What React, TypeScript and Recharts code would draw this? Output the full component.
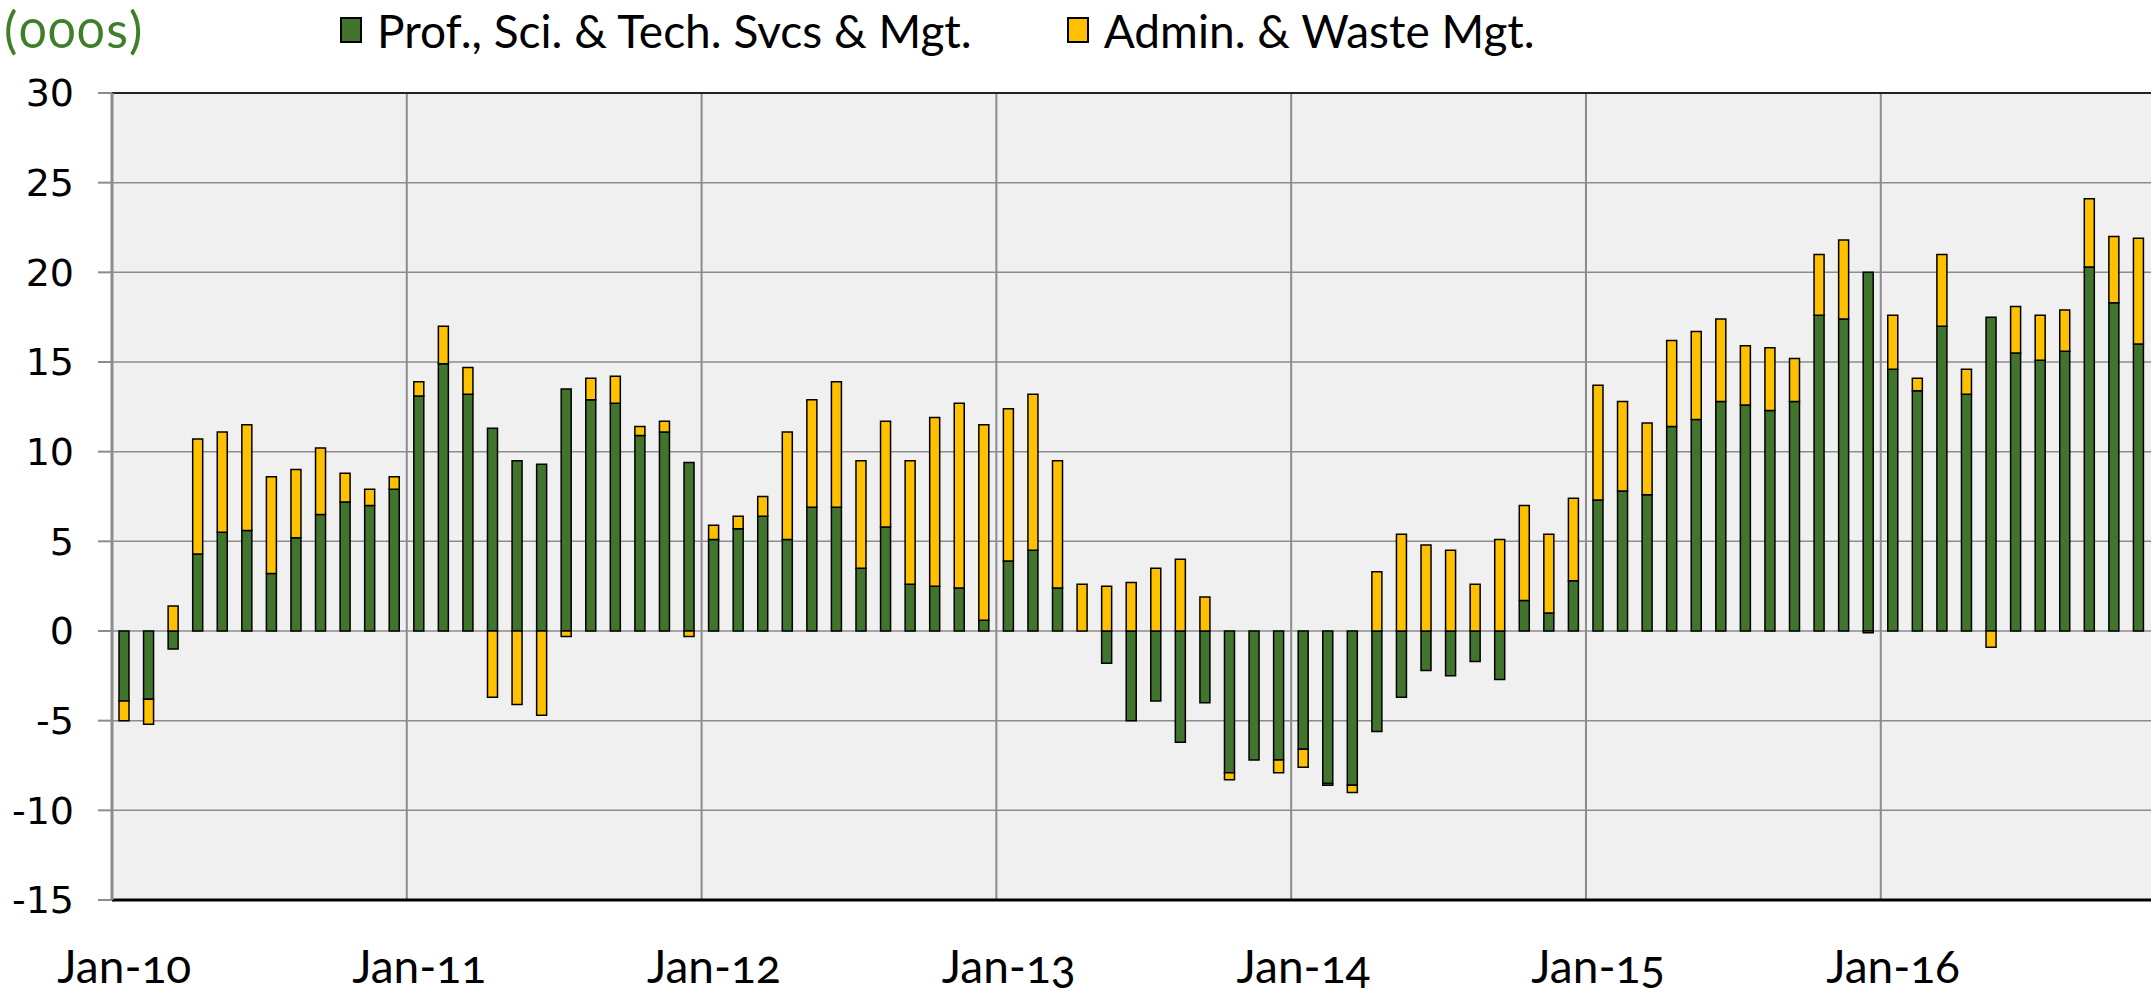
import React from 'react';
import { BarChart, Bar, XAxis, YAxis, CartesianGrid, ReferenceLine } from 'recharts';

const MONTHS = ['Jan', 'Feb', 'Mar', 'Apr', 'May', 'Jun', 'Jul', 'Aug', 'Sep', 'Oct', 'Nov', 'Dec'];
const YEARS = ['10', '11', '12', '13', '14', '15', '16'];
const COUNT = 83;
const categories: string[] = YEARS.flatMap((y) => MONTHS.map((m) => `${m}-${y}`)).slice(0, COUNT);

const profSciTech: number[] = [
  -3.9, -3.8, -1.0, 4.3, 5.5, 5.6, 3.2, 5.2, 6.5, 7.2, 7.0, 7.9,
  13.1, 14.9, 13.2, 11.3, 9.5, 9.3, 13.5, 12.9, 12.7, 10.9, 11.1, 9.4,
  5.1, 5.7, 6.4, 5.1, 6.9, 6.9, 3.5, 5.8, 2.6, 2.5, 2.4, 0.6,
  3.9, 4.5, 2.4, 0.0, -1.8, -5.0, -3.9, -6.2, -4.0, -7.9, -7.2, -7.2,
  -6.6, -8.5, -8.6, -5.6, -3.7, -2.2, -2.5, -1.7, -2.7, 1.7, 1.0, 2.8,
  7.3, 7.8, 7.6, 11.4, 11.8, 12.8, 12.6, 12.3, 12.8, 17.6, 17.4, 20.0,
  14.6, 13.4, 17.0, 13.2, 17.5, 15.5, 15.1, 15.6, 20.3, 18.3, 16.0,
];

const adminWaste: number[] = [
  -1.1, -1.4, 1.4, 6.4, 5.6, 5.9, 5.4, 3.8, 3.7, 1.6, 0.9, 0.7,
  0.8, 2.1, 1.5, -3.7, -4.1, -4.7, -0.3, 1.2, 1.5, 0.5, 0.6, -0.3,
  0.8, 0.7, 1.1, 6.0, 6.0, 7.0, 6.0, 5.9, 6.9, 9.4, 10.3, 10.9,
  8.5, 8.7, 7.1, 2.6, 2.5, 2.7, 3.5, 4.0, 1.9, -0.4, 0.0, -0.7,
  -1.0, -0.1, -0.4, 3.3, 5.4, 4.8, 4.5, 2.6, 5.1, 5.3, 4.4, 4.6,
  6.4, 5.0, 4.0, 4.8, 4.9, 4.6, 3.3, 3.5, 2.4, 3.4, 4.4, -0.1,
  3.0, 0.7, 4.0, 1.4, -0.9, 2.6, 2.5, 2.3, 3.8, 3.7, 5.9,
];

const yTicks: number[] = [-15, -10, -5, 0, 5, 10, 15, 20, 25, 30];
const xTickLabels: string[] = ['Jan-10', 'Jan-11', 'Jan-12', 'Jan-13', 'Jan-14', 'Jan-15', 'Jan-16'];
const yearBoundaries: number[] = [12, 24, 36, 48, 60, 72];

const SERIES_1 = 'Prof., Sci. & Tech. Svcs & Mgt.';
const SERIES_2 = 'Admin. & Waste Mgt.';
const GREEN = '#41752d';
const YELLOW = '#ffc000';
const GRID = '#8c8c8c';

const data = categories.map((c, i) => ({ month: c, idx: i + 0.5, prof: profSciTech[i], admin: adminWaste[i] }));

const XTick = (props: any) => {
  const { x, y, payload } = props;
  return (
    <text x={x} y={y} dy="0.71em" textAnchor="middle" fill="#000"
      style={{ fontFamily: 'Lato', fontSize: 46, fontFeatureSettings: '"onum"' }}>
      {payload.value}
    </text>
  );
};

export default function App() {
  return (
    <div style={{ position: 'absolute', left: 0, top: 0, width: 2151, height: 995, background: '#fff', overflow: 'hidden' }}>
      <div style={{ position: 'absolute', left: 4, top: 0, height: 58, lineHeight: '58px', fontFamily: 'Lato', fontSize: 50, color: '#3f7f2a', fontFeatureSettings: '"onum"', letterSpacing: 2 }}>
        (000s)
      </div>
      <div style={{ position: 'absolute', left: 340, top: 0, height: 60, display: 'flex', alignItems: 'center', fontFamily: 'Lato', fontSize: 46, color: '#000' }}>
        <span style={{ display: 'inline-block', width: 18, height: 22, background: GREEN, border: '2px solid #000', marginRight: 15 }} />
        <span>{SERIES_1}</span>
        <span style={{ display: 'inline-block', width: 18, height: 22, background: YELLOW, border: '2px solid #000', marginLeft: 95, marginRight: 15 }} />
        <span>{SERIES_2}</span>
      </div>
      <BarChart
        width={2151}
        height={995}
        data={data}
        stackOffset="sign"
        barCategoryGap={0}
        margin={{ top: 93, right: 0, bottom: 0, left: 12 }}
        style={{ position: 'absolute', left: 0, top: 0 }}
      >
        <CartesianGrid vertical={false} stroke={GRID} strokeWidth={1.5} fill="#f0f0f0" fillOpacity={1} />
        <XAxis
          dataKey="month"
          ticks={xTickLabels}
          interval={0}
          tickLine={false}
          tickSize={0}
          tickMargin={50}
          height={95}
          axisLine={{ stroke: '#000', strokeWidth: 3 }}
          tick={<XTick />}
        />
        <XAxis xAxisId="g" dataKey="idx" type="number" domain={[0, COUNT]} hide allowDataOverflow />
        <YAxis
          domain={[-15, 30]}
          ticks={yTicks}
          interval={0}
          width={100}
          tickSize={14}
          tickMargin={24}
          allowDataOverflow
          axisLine={{ stroke: GRID, strokeWidth: 3 }}
          tickLine={{ stroke: GRID, strokeWidth: 2 }}
          tick={{ fill: '#000', fontSize: 38, fontFamily: 'DejaVu Sans' }}
        />
        {yearBoundaries.map((b) => (
          <ReferenceLine key={b} xAxisId="g" x={b} stroke={GRID} strokeWidth={2} />
        ))}
        <ReferenceLine y={30} stroke="#222" strokeWidth={2} />
        <Bar dataKey="prof" name={SERIES_1} stackId="s" fill={GREEN} stroke="#000" strokeWidth={1.5} barSize={10} isAnimationActive={false} />
        <Bar dataKey="admin" name={SERIES_2} stackId="s" fill={YELLOW} stroke="#000" strokeWidth={1.5} barSize={10} isAnimationActive={false} />
      </BarChart>
    </div>
  );
}
